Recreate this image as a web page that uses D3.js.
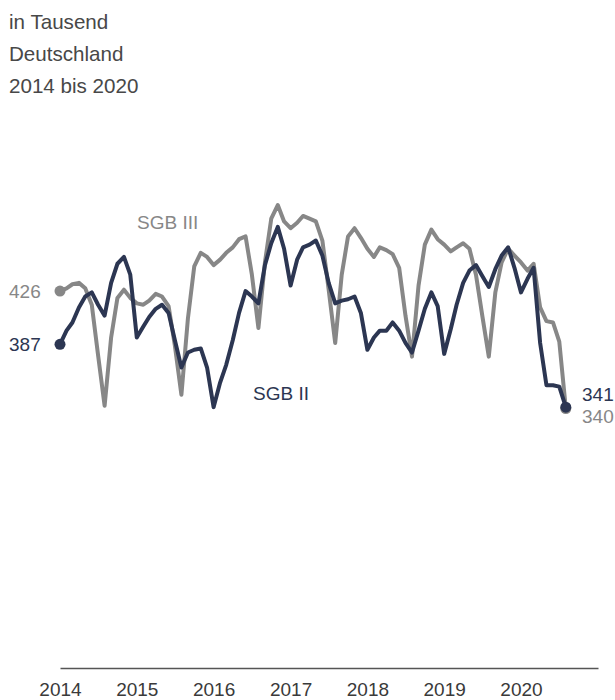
<!DOCTYPE html>
<html>
<head>
<meta charset="utf-8">
<script src="https://cdn.jsdelivr.net/npm/d3@7"></script>
<style>
  html, body { margin: 0; padding: 0; background: #fff; }
  svg text { font-family: "Liberation Sans", Arial, sans-serif; }
</style>
</head>
<body>
<svg id="chart" width="615" height="700"></svg>
<script>
// ---- data ----
const headerLines = ["in Tausend", "Deutschland", "2014 bis 2020"];
const yearLabels = ["2014", "2015", "2016", "2017", "2018", "2019", "2020"];
const seriesNames = ["SGB III", "SGB II"];
// monthly values Jan 2014 .. Aug 2020 (thousands)
const sgb3 = [
  426, 428, 431, 432, 428, 416, 379, 342, 392, 421, 427, 421,
  417, 416, 419, 424, 422, 415, 386, 350, 406, 444, 454, 451,
  445, 449, 454, 458, 464, 466, 438, 399, 447, 479, 489, 477,
  472, 476, 481, 479, 477, 463, 427, 388, 438, 466, 472, 465,
  457, 451, 458, 456, 453, 443, 408, 378, 430, 460, 471, 464,
  460, 455, 458, 461, 457, 438, 408, 378, 425, 447, 457, 452,
  447, 441, 446, 414, 404, 403, 389, 340
];
const sgb2 = [
  387, 397, 403, 414, 422, 425, 416, 408, 432, 446, 451, 438,
  392, 400, 407, 413, 416, 410, 390, 370, 381, 383, 384, 370,
  341, 359, 372, 390, 410, 426, 422, 417, 445, 461, 473, 457,
  430, 449, 458, 460, 463, 452, 432, 417, 419, 420, 422, 410,
  383, 392, 397, 397, 403, 397, 388, 381, 397, 413, 425, 415,
  380, 398, 416, 432, 441, 445, 437, 429, 442, 452, 458, 443,
  425, 435, 443, 388, 357, 357, 356, 341
];

const months = d3.timeMonth.range(new Date(2014, 0, 1), new Date(2020, 8, 1));

const colGray = "#878787";
const colNavy = "#2c3652";

const svg = d3.select("#chart");

// header
svg.append("g").selectAll("text").data(headerLines).join("text")
  .attr("x", 9)
  .attr("y", (d, i) => 29 + i * 32)
  .attr("font-size", 20.6)
  .attr("fill", "#484848")
  .text(d => d);

// scales
const x = d3.scaleTime()
  .domain([new Date(2014, 0, 1), new Date(2021, 0, 1)])
  .range([60, 598]);
const y = d3.scaleLinear().domain([150, 500]).range([668, 190]);

// axis
const axis = d3.axisBottom(x)
  .tickValues(yearLabels.map(yr => new Date(+yr, 0, 1)))
  .tickFormat(d3.timeFormat("%Y"))
  .tickSize(0)
  .tickPadding(15);
const gAxis = svg.append("g").attr("transform", "translate(0,668)").call(axis);
gAxis.select(".domain").attr("stroke", "#555").attr("stroke-width", 1.6);
gAxis.selectAll("text")
  .attr("font-size", 19)
  .attr("fill", "#3a3a3a")
  .attr("font-family", "Liberation Sans, Arial, sans-serif");

const line = d3.line()
  .x((d, i) => x(months[i]))
  .y(d => y(d));

const series = [
  { name: seriesNames[0], values: sgb3, color: colGray },
  { name: seriesNames[1], values: sgb2, color: colNavy }
];

series.forEach(s => {
  svg.append("path")
    .datum(s.values)
    .attr("fill", "none")
    .attr("stroke", s.color)
    .attr("stroke-width", 4)
    .attr("stroke-linejoin", "round")
    .attr("stroke-linecap", "round")
    .attr("d", line);
});

series.forEach(s => {
  const n = s.values.length - 1;
  svg.append("circle")
    .attr("cx", x(months[0])).attr("cy", y(s.values[0]))
    .attr("r", 5.5).attr("fill", s.color);
  svg.append("circle")
    .attr("cx", x(months[n])).attr("cy", y(s.values[n]))
    .attr("r", 5.5).attr("fill", s.color);
});

// start value labels
series.forEach(s => {
  svg.append("text")
    .attr("x", 9)
    .attr("y", y(s.values[0]))
    .attr("dy", "0.36em")
    .attr("font-size", 19)
    .attr("fill", s.color)
    .text(s.values[0]);
});

// end value labels
const nEnd = sgb2.length - 1;
svg.append("text")
  .attr("x", 582).attr("y", y(sgb2[nEnd]) - 13).attr("dy", "0.36em")
  .attr("font-size", 19).attr("fill", colNavy)
  .text(sgb2[nEnd]);
svg.append("text")
  .attr("x", 582).attr("y", y(sgb3[nEnd]) + 8).attr("dy", "0.36em")
  .attr("font-size", 19).attr("fill", colGray)
  .text(sgb3[nEnd]);

// series name labels
svg.append("text")
  .attr("x", 137).attr("y", 229)
  .attr("font-size", 19).attr("fill", colGray)
  .text(seriesNames[0]);
svg.append("text")
  .attr("x", 253).attr("y", 400)
  .attr("font-size", 19).attr("fill", colNavy)
  .text(seriesNames[1]);
</script>
</body>
</html>
